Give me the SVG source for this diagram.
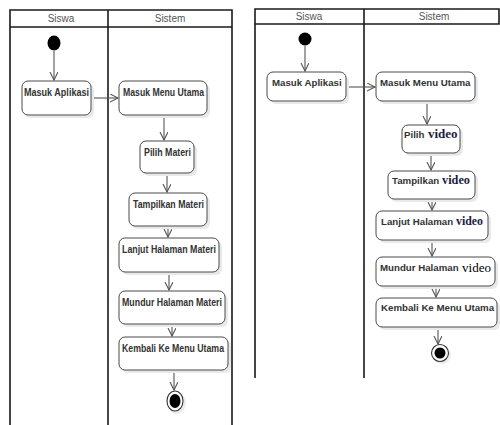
<svg xmlns="http://www.w3.org/2000/svg" width="500" height="425" viewBox="0 0 500 425">
<style>
.lane{stroke:#1a1a1a;stroke-width:1.6;fill:none}
.hd{font-family:"Liberation Sans",Arial,sans-serif;font-size:10px;fill:#555;text-anchor:middle}
.box{fill:#fff;stroke:#4a4a4a;stroke-width:1}
.sh{fill:#e9e9e9}
.t{font-family:"Liberation Sans",Arial,sans-serif;font-size:11px;font-weight:bold;fill:#333}
.r{font-family:"Liberation Sans",Arial,sans-serif;font-size:9.7px;font-weight:bold;fill:#333}
.v{font-family:"Liberation Serif","Times New Roman",serif;font-size:13px;font-weight:bold;fill:#1c1c3c}
.c{stroke:#555;stroke-width:1.1;fill:none;marker-end:url(#a)}
</style>
<defs>
<marker id="a" markerWidth="10" markerHeight="10" refX="8" refY="4" orient="auto" markerUnits="userSpaceOnUse">
<path d="M0,0 L8,4 L0,8" fill="none" stroke="#555" stroke-width="1.1"/>
</marker>
</defs>
<rect width="500" height="425" fill="#fff"/>

<!-- Left diagram swimlanes -->
<g id="lanes-left">
<path class="lane" d="M10,425 V10 H232 V425 M10,27 H232 M108,10 V425"/>
<text class="hd" x="61" y="22">Siswa</text>
<text class="hd" x="170" y="22">Sistem</text>
</g>

<!-- Right diagram swimlanes -->
<g id="lanes-right">
<path class="lane" d="M255,378 V9 H499 V24 H255 M364,9 V378"/>
<text class="hd" x="309" y="20">Siswa</text>
<text class="hd" x="434" y="20">Sistem</text>
</g>

<g id="connectors">
<line class="c" x1="54" y1="51" x2="54" y2="80"/>
<line class="c" x1="91" y1="98" x2="118" y2="98"/>
<line class="c" x1="164" y1="115" x2="164" y2="140"/>
<line class="c" x1="167" y1="173" x2="167" y2="192"/>
<line class="c" x1="168" y1="226" x2="168" y2="237"/>
<line class="c" x1="169" y1="272" x2="169" y2="290"/>
<line class="c" x1="172" y1="324" x2="172" y2="336"/>
<line class="c" x1="174" y1="370" x2="174" y2="390"/>

<line class="c" x1="305" y1="46" x2="305" y2="71"/>
<line class="c" x1="346" y1="87" x2="375" y2="87"/>
<line class="c" x1="427" y1="101" x2="427" y2="124"/>
<line class="c" x1="431" y1="153" x2="431" y2="170"/>
<line class="c" x1="432" y1="199" x2="432" y2="210"/>
<line class="c" x1="432" y1="240" x2="432" y2="256"/>
<line class="c" x1="436" y1="286" x2="436" y2="297"/>
<line class="c" x1="438" y1="327" x2="438" y2="344"/>
</g>

<!-- Left nodes -->
<g id="L-start"><ellipse cx="54" cy="43" rx="6.5" ry="7.5" fill="#000"/></g>
<g id="L-masuk-aplikasi">
<rect class="sh" x="25" y="84" width="69" height="34" rx="6"/>
<rect class="box" x="22" y="81" width="69" height="34" rx="6"/>
<text class="t" x="24" y="96" textLength="65" lengthAdjust="spacingAndGlyphs">Masuk Aplikasi</text>
</g>
<g id="L-masuk-menu">
<rect class="sh" x="122" y="84" width="88" height="34" rx="6"/>
<rect class="box" x="119" y="81" width="88" height="34" rx="6"/>
<text class="t" x="123" y="96" textLength="81" lengthAdjust="spacingAndGlyphs">Masuk Menu Utama</text>
</g>
<g id="L-pilih">
<rect class="sh" x="143" y="144" width="54" height="32" rx="6"/>
<rect class="box" x="140" y="141" width="54" height="32" rx="6"/>
<text class="t" x="144" y="156" textLength="47" lengthAdjust="spacingAndGlyphs">Pilih Materi</text>
</g>
<g id="L-tampilkan">
<rect class="sh" x="132" y="196" width="78" height="33" rx="6"/>
<rect class="box" x="129" y="193" width="78" height="33" rx="6"/>
<text class="t" x="133" y="208" textLength="71" lengthAdjust="spacingAndGlyphs">Tampilkan Materi</text>
</g>
<g id="L-lanjut">
<rect class="sh" x="122" y="241" width="100" height="34" rx="6"/>
<rect class="box" x="119" y="238" width="100" height="34" rx="6"/>
<text class="t" x="122" y="253" textLength="94" lengthAdjust="spacingAndGlyphs">Lanjut Halaman Materi</text>
</g>
<g id="L-mundur">
<rect class="sh" x="122" y="294" width="106" height="33" rx="6"/>
<rect class="box" x="119" y="291" width="106" height="33" rx="6"/>
<text class="t" x="122" y="306" textLength="100" lengthAdjust="spacingAndGlyphs">Mundur Halaman Materi</text>
</g>
<g id="L-kembali">
<rect class="sh" x="122" y="340" width="109" height="33" rx="6"/>
<rect class="box" x="119" y="337" width="109" height="33" rx="6"/>
<text class="t" x="122" y="352" textLength="102" lengthAdjust="spacingAndGlyphs">Kembali Ke Menu Utama</text>
</g>
<g id="L-end">
<ellipse cx="177" cy="403" rx="9" ry="11" fill="#ececec"/>
<ellipse cx="175" cy="401" rx="8" ry="10" fill="#fff" stroke="#333" stroke-width="1.1"/>
<ellipse cx="175" cy="401" rx="5.5" ry="7" fill="#000"/>
</g>

<!-- Right nodes -->
<g id="R-start"><circle cx="305" cy="39" r="6.5" fill="#000"/></g>
<g id="R-masuk-aplikasi">
<rect class="sh" x="270" y="75" width="79" height="29" rx="6"/>
<rect class="box" x="267" y="72" width="79" height="29" rx="6"/>
<text class="r" x="272" y="86">Masuk Aplikasi</text>
</g>
<g id="R-masuk-menu">
<rect class="sh" x="379" y="75" width="99" height="29" rx="6"/>
<rect class="box" x="376" y="72" width="99" height="29" rx="6"/>
<text class="r" x="380" y="86">Masuk Menu Utama</text>
</g>
<g id="R-pilih">
<rect class="sh" x="405" y="128" width="58" height="28" rx="6"/>
<rect class="box" x="402" y="125" width="58" height="28" rx="6"/>
<text class="r" x="404" y="138">Pilih</text>
<text class="v" x="428" y="138">video</text>
</g>
<g id="R-tampilkan">
<rect class="sh" x="391" y="174" width="87" height="28" rx="6"/>
<rect class="box" x="388" y="171" width="87" height="28" rx="6"/>
<text class="r" x="392" y="184">Tampilkan</text>
<text class="v" x="442" y="184" textLength="28" lengthAdjust="spacingAndGlyphs">video</text>
</g>
<g id="R-lanjut">
<rect class="sh" x="379" y="214" width="112" height="29" rx="6"/>
<rect class="box" x="376" y="211" width="112" height="29" rx="6"/>
<text class="r" x="381" y="225">Lanjut Halaman</text>
<text class="v" x="456" y="225" textLength="27" lengthAdjust="spacingAndGlyphs">video</text>
</g>
<g id="R-mundur">
<rect class="sh" x="379" y="260" width="119" height="29" rx="6"/>
<rect class="box" x="376" y="257" width="119" height="29" rx="6"/>
<text class="r" x="380" y="271">Mundur Halaman</text>
<text class="v" x="462" y="272" style="fill:#000;font-weight:normal" textLength="29" lengthAdjust="spacingAndGlyphs">video</text>
</g>
<g id="R-kembali">
<rect class="sh" x="379" y="301" width="121" height="29" rx="6"/>
<rect class="box" x="376" y="298" width="121" height="29" rx="6"/>
<text class="r" x="381" y="311">Kembali Ke Menu Utama</text>
</g>
<g id="R-end">
<circle cx="442" cy="355" r="9" fill="#ececec"/>
<circle cx="440" cy="353" r="8.5" fill="#fff" stroke="#333" stroke-width="1.1"/>
<circle cx="440" cy="353" r="5.5" fill="#000"/>
</g>
</svg>
